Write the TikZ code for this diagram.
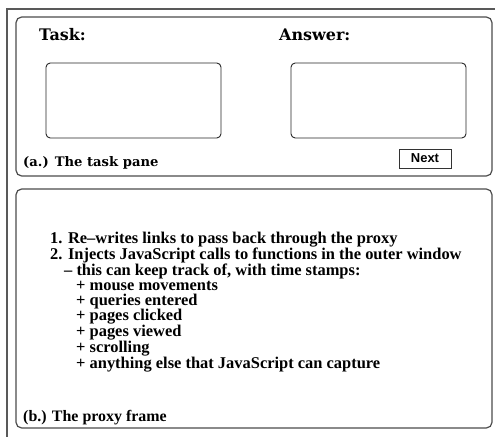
\documentclass[tikz,border=0pt]{standalone}
\usepackage{fontspec}
\setmainfont{Liberation Serif}
\newfontfamily\schoolfont{DejaVu Serif}
\newfontfamily\buttonfont{Liberation Sans}
\begin{document}
\begin{tikzpicture}[x=1bp, y=-1bp,
pane/.style={rectangle, rounded corners=2mm, draw=gray!60!black, line width=1.2bp, minimum width=476bp},
field/.style={rectangle, rounded corners=1.5mm, draw=black!85, line width=0.9bp, minimum width=175bp, minimum height=75bp},
button/.style={rectangle, draw=black!80, line width=0.9bp, minimum width=52bp, minimum height=19bp, inner sep=0pt, font=\buttonfont\bfseries\fontsize{13}{13}\selectfont},
heading/.style={anchor=west, inner sep=0pt, font=\schoolfont\bfseries\fontsize{16}{16}\selectfont},
caption/.style={anchor=west, inner sep=0pt},
steps/.style={anchor=north west, inner sep=0pt, align=left, font=\bfseries\fontsize{16.5}{15}\selectfont},
]

\useasboundingbox (0,0) rectangle (495,437);

% outer window
\draw[gray!70!black, line width=2bp] (495,9) -- (7,9) -- (7,437);

\begin{scope}

	% task pane
	\node[pane, minimum height=159bp] at (254,96.5) (taskpane) {};
	\node[heading] at (39,35) (task) {Task:};
	\node[heading] at (279,35) (answer) {Answer:};
	\node[field] at (133.5,100.5) (taskfield) {};
	\node[field] at (378.5,100.5) (answerfield) {};
	\node[button] at (425,158.5) (next) {Next};
	\node[caption, font=\schoolfont\bfseries\fontsize{13.2}{13.2}\selectfont] at (23,163) (panecaption) {(a.) The task pane};

	% proxy frame
	\node[pane, minimum height=239bp] at (254,308.5) (proxyframe) {};
	\node[steps] at (50,232) (proxysteps) {1. Re--writes links to pass back through the proxy\\
		2. Injects JavaScript calls to functions in the outer window\\
		\hspace*{14bp}-- this can keep track of, with time stamps:\\
		\hspace*{26bp}+ mouse movements\\
		\hspace*{26bp}+ queries entered\\
		\hspace*{26bp}+ pages clicked\\
		\hspace*{26bp}+ pages viewed\\
		\hspace*{26bp}+ scrolling\\
		\hspace*{26bp}+ anything else that JavaScript can capture};
	\node[caption, font=\bfseries\fontsize{16}{16}\selectfont] at (23,418) (framecaption) {(b.) The proxy frame};

\end{scope}

\end{tikzpicture}
\end{document}
